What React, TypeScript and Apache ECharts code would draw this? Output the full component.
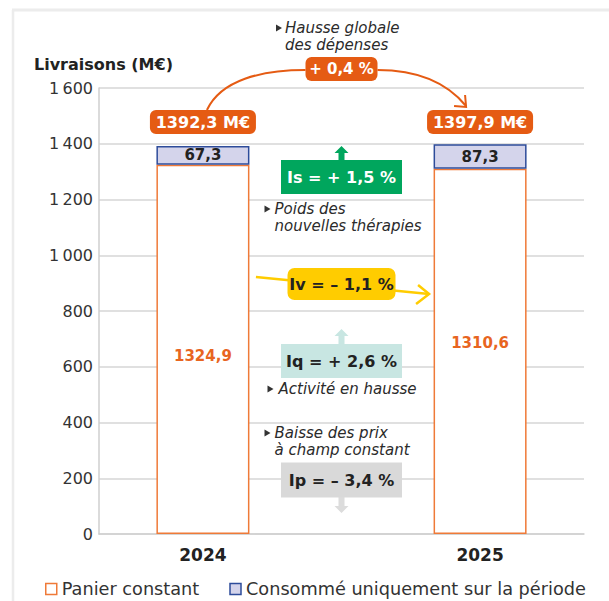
import React, { useEffect, useRef } from "react";
import * as echarts from "echarts";

// ---- data ----
const years = ["2024", "2025"];
const panierConstant = [1324.9, 1310.6];
const consommePeriode = [67.3, 87.3];
const totals = [1392.3, 1397.9];
const globalChange = "+ 0,4 %";
const yMax = 1600;
const yStep = 200;
const indexLabels = ["Is = + 1,5 %", "Iv = – 1,1 %", "Iq = + 2,6 %", "Ip = – 3,4 %"];
const notes = {
  global: ["Hausse globale", "des dépenses"],
  poids: ["Poids des", "nouvelles thérapies"],
  activite: ["Activité en hausse"],
  prix: ["Baisse des prix", "à champ constant"],
};
const seriesNames = ["Panier constant", "Consommé uniquement sur la période"];

// layout: 7 equal slots, years placed in slots 1 and 5
const SLOT_COUNT = 7;
const yearSlots = [1, 5];

const FONT = "DejaVu Sans";
const ORANGE = "#e55b13";
const BAR_ORANGE = "#ef7a38";
const TEXT = "#2b2b2b";

const fmt = (v: number) => v.toFixed(1).replace(".", ",");
const fmtTick = (v: number) =>
  v >= 1000 ? `${Math.floor(v / 1000)}\u202f${String(v % 1000).padStart(3, "0")}` : String(v);

function slotArray<T>(vals: T[], empty: any): any[] {
  const arr: any[] = new Array(SLOT_COUNT).fill(empty);
  yearSlots.forEach((s, i) => (arr[s] = vals[i]));
  return arr;
}

const labelOffsets = [[0, 7], [0, -8]];

export default function App() {
  const ref = useRef<HTMLDivElement>(null);
  useEffect(() => {
    if (!ref.current) return;
    const chart = echarts.init(ref.current, null, { renderer: "svg" });
    const option: any = {
      animation: false,
      backgroundColor: "#ffffff",
      textStyle: { fontFamily: FONT },
      grid: { left: 99, right: 25, top: 88, bottom: 67 },
      legend: {
        left: 40,
        top: 575,
        icon: "rect",
        itemWidth: 11,
        itemHeight: 11,
        itemGap: 30,
        textStyle: { fontFamily: FONT, fontSize: 17.7, color: "#333" },
        data: [
          { name: seriesNames[0], itemStyle: { color: "#ffffff", borderColor: BAR_ORANGE, borderWidth: 1.5 } },
          { name: seriesNames[1], itemStyle: { color: "#d4d4eb", borderColor: "#2e4c9a", borderWidth: 1.5 } },
        ],
      },
      xAxis: {
        type: "category",
        data: slotArray(years, ""),
        axisLine: { lineStyle: { color: "#cfcfcf", width: 1.5 } },
        axisTick: { show: false },
        axisLabel: {
          interval: 0,
          margin: 12,
          fontFamily: FONT,
          fontSize: 17,
          fontWeight: "bold",
          color: "#222",
        },
      },
      yAxis: {
        type: "value",
        min: 0,
        max: yMax,
        interval: yStep,
        axisLine: { show: true, lineStyle: { color: "#cfcfcf", width: 1.5 } },
        axisTick: { show: false },
        splitLine: { lineStyle: { color: "#d6d6d6", width: 1.5 } },
        axisLabel: {
          margin: 6,
          fontFamily: FONT,
          fontSize: 16,
          color: "#333",
          formatter: (v: number) => fmtTick(v),
        },
      },
      series: [
        {
          name: seriesNames[0],
          type: "bar",
          stack: "total",
          barWidth: 93,
          data: slotArray(
            panierConstant.map((v, i) => ({
              value: v,
              label: { offset: labelOffsets[i] },
            })),
            "-"
          ),
          itemStyle: { color: "#ffffff", borderColor: BAR_ORANGE, borderWidth: 1.5 },
          label: {
            show: true,
            position: "inside",
            formatter: (p: any) => fmt(p.value),
            fontFamily: FONT,
            fontSize: 15,
            fontWeight: "bold",
            color: "#e8651f",
          },
        },
        {
          name: seriesNames[1],
          type: "bar",
          stack: "total",
          barWidth: 93,
          data: slotArray(consommePeriode, "-"),
          itemStyle: { color: "#d4d4eb", borderColor: "#2e4c9a", borderWidth: 1.5 },
          label: {
            show: true,
            position: "inside",
            formatter: (p: any) => fmt(p.value),
            fontFamily: FONT,
            fontSize: 15,
            fontWeight: "bold",
            color: "#222",
          },
        },
      ],
    };
    chart.setOption(option);

    const px = yearSlots.map((s, i) => chart.convertToPixel({ gridIndex: 0 }, [s, totals[i]]) as number[]);
    const c1 = px[0][0];
    const c2 = px[1][0];
    const mid = (c1 + c2) / 2;

    const txt = (x: number, y: number, text: string, o: any = {}) => ({
      type: "text",
      x,
      y,
      z: 20,
      style: {
        text,
        fill: o.fill || TEXT,
        fontSize: o.fontSize || 15,
        fontWeight: o.fontWeight || "normal",
        fontStyle: o.fontStyle || "normal",
        fontFamily: FONT,
        lineHeight: o.lineHeight || undefined,
        align: o.align || "center",
        textAlign: o.align || "center",
        verticalAlign: o.vAlign || "middle",
        textVerticalAlign: o.vAlign || "middle",
      },
    });
    // multi-line italic note, first line centered at y
    const note = (x: number, y: number, lines: string[]) =>
      txt(x, y - 8, lines.join("\n"), {
        align: "left",
        fontStyle: "italic",
        fontSize: 15,
        lineHeight: 16.5,
        vAlign: "top",
      });
    const box = (cx: number, cy: number, w: number, h: number, fill: string, r = 0) => ({
      type: "rect",
      z: 15,
      shape: { x: cx - w / 2, y: cy - h / 2, width: w, height: h, r },
      style: { fill },
    });
    const tri = (x: number, y: number) => ({
      type: "polygon",
      z: 20,
      shape: { points: [[x, y - 3.5], [x + 6, y], [x, y + 3.5]] },
      style: { fill: "#333" },
    });
    const upArrow = (cx: number, top: number, bottom: number, fill: string) => ({
      type: "polygon",
      z: 14,
      shape: {
        points: [
          [cx, top],
          [cx + 7, top + 7],
          [cx + 3, top + 7],
          [cx + 3, bottom],
          [cx - 3, bottom],
          [cx - 3, top + 7],
          [cx - 7, top + 7],
        ],
      },
      style: { fill },
    });
    const downArrow = (cx: number, top: number, bottom: number, fill: string) => ({
      type: "polygon",
      z: 14,
      shape: {
        points: [
          [cx - 3, top],
          [cx + 3, top],
          [cx + 3, bottom - 7],
          [cx + 7, bottom - 7],
          [cx, bottom],
          [cx - 7, bottom - 7],
          [cx - 3, bottom - 7],
        ],
      },
      style: { fill },
    });
    const noteX = mid - 67;

    const graphic: any[] = [
      // frame
      { type: "line", shape: { x1: 12, y1: 10, x2: 609, y2: 10 }, style: { stroke: "#ececec", lineWidth: 3 } },
      { type: "line", shape: { x1: 13, y1: 10, x2: 13, y2: 601 }, style: { stroke: "#ececec", lineWidth: 2.5 } },
      // y title
      txt(34, 64, "Livraisons (M€)", { align: "left", fontSize: 16, fontWeight: "bold", fill: "#222" }),
      // global note
      tri(276, 28),
      note(285, 28, notes.global),
      // arc arrow
      {
        type: "bezierCurve",
        z: 10,
        shape: { x1: c1 + 4, y1: 110, cpx1: c1 + 18, cpy1: 80, cpx2: mid - 80, cpy2: 70, x2: mid - 36, y2: 70 },
        style: { stroke: ORANGE, lineWidth: 2, fill: "none" },
      },
      {
        type: "bezierCurve",
        z: 10,
        shape: { x1: mid + 36, y1: 70, cpx1: mid + 80, cpy1: 70, cpx2: c2 - 32, cpy2: 84, x2: c2 - 14, y2: 106 },
        style: { stroke: ORANGE, lineWidth: 2, fill: "none" },
      },
      {
        type: "polyline",
        z: 10,
        shape: { points: [[c2 - 26, 106], [c2 - 14, 107], [c2 - 15, 95]] },
        style: { stroke: ORANGE, lineWidth: 2, fill: "none" },
      },
      box(mid, 69, 72, 24, ORANGE, 6),
      txt(mid, 69, globalChange, { fill: "#fff", fontWeight: "bold", fontSize: 15 }),
      // totals callouts
      box(c1, 122, 106, 24, ORANGE, 6),
      txt(c1, 122, `${fmt(totals[0])} M€`, { fill: "#fff", fontWeight: "bold", fontSize: 16 }),
      box(c2, 122, 106, 24, ORANGE, 6),
      txt(c2, 122, `${fmt(totals[1])} M€`, { fill: "#fff", fontWeight: "bold", fontSize: 16 }),
      // Is
      upArrow(mid, 146, 161, "#00a65d"),
      box(mid, 177, 121, 34, "#00a65d"),
      txt(mid, 177, indexLabels[0], { fill: "#fff", fontWeight: "bold", fontSize: 16 }),
      tri(noteX - 10, 209),
      note(noteX, 209, notes.poids),
      // Iv
      {
        type: "line",
        z: 12,
        shape: { x1: c1 + 53, y1: 277, x2: c2 - 51, y2: 294 },
        style: { stroke: "#ffcc00", lineWidth: 2.5 },
      },
      {
        type: "polyline",
        z: 12,
        shape: { points: [[c2 - 62, 285], [c2 - 51, 294], [c2 - 64, 304]] },
        style: { stroke: "#ffcc00", lineWidth: 2.5, fill: "none" },
      },
      box(mid, 284, 108, 32, "#ffcc00", 7),
      txt(mid, 284, indexLabels[1], { fill: "#222", fontWeight: "bold", fontSize: 16 }),
      // Iq
      upArrow(mid, 329, 345, "#c8e6e2"),
      box(mid, 361, 121, 34, "#c8e6e2"),
      txt(mid, 361, indexLabels[2], { fill: "#222", fontWeight: "bold", fontSize: 16 }),
      tri(noteX - 7, 389),
      note(noteX + 4, 389, notes.activite),
      // Ip
      tri(noteX - 10, 433),
      note(noteX, 433, notes.prix),
      box(mid, 480, 121, 35, "#d9d9d9"),
      txt(mid, 480, indexLabels[3], { fill: "#222", fontWeight: "bold", fontSize: 16 }),
      downArrow(mid, 497, 513, "#dcdcdc"),
    ];
    chart.setOption({ graphic });

    return () => chart.dispose();
  }, []);

  return (
    <div
      ref={ref}
      style={{ position: "absolute", left: 0, top: 0, width: 609, height: 601, background: "#fff" }}
    />
  );
}
